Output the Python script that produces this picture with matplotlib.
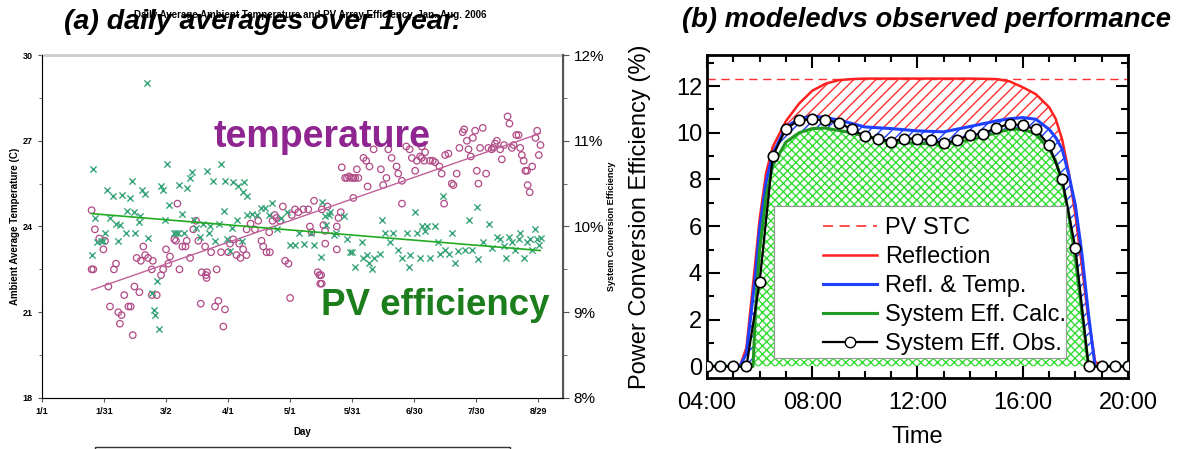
import matplotlib
matplotlib.use("Agg")
import matplotlib.pyplot as plt
from matplotlib.patches import Rectangle
from matplotlib.lines import Line2D

plt.rcParams["font.family"] = ["Liberation Sans", "DejaVu Sans"]
plt.rcParams["hatch.linewidth"] = 1.0

# ---------------- (a) daily averages ----------------
temp_day = [24.0, 24.0, 24.8, 25.6, 27.7, 29.7, 30.5, 32.1, 32.9, 34.8, 35.8, 36.9, 37.7,
            38.5, 39.8, 41.8, 42.9, 43.9, 44.7, 45.8, 47.1, 47.8, 49.0, 49.9, 51.3, 53.1,
            53.1, 53.6, 55.5, 57.6, 58.6, 60.0, 61.1, 61.9, 64.0, 64.8, 65.5, 66.5, 67.9,
            69.4, 70.0, 71.6, 73.2, 74.5, 75.6, 76.8, 77.3, 78.9, 79.3, 79.6, 79.8, 81.8,
            83.7, 84.5, 85.3, 86.6, 87.7, 88.5, 90.1, 90.9, 92.5, 94.1, 95.4, 96.0, 97.3,
            98.9, 99.0, 100.9, 103.0, 104.6, 106.2, 107.0, 108.6, 109.9, 110.2, 111.5,
            112.6, 113.4, 115.1, 116.5, 117.6, 119.2, 120.0, 120.8, 122.4, 124.0, 126.4,
            128.8, 129.6, 130.4, 131.6, 133.4, 134.2, 134.6, 135.0, 135.3, 135.4, 136.1,
            136.9, 137.0, 138.1, 142.6, 142.6, 143.4, 144.5, 145.0, 146.6, 147.5, 148.5,
            149.5, 150.6, 150.6, 151.5, 152.3, 153.0, 155.5, 156.8, 157.5, 158.4, 160.4,
            163.9, 165.0, 166.6, 167.5, 169.1, 171.5, 172.3, 174.1, 174.1, 176.2, 177.8,
            178.9, 180.5, 181.3, 182.9, 183.7, 183.7, 184.8, 185.3, 187.7, 189.0, 190.1,
            192.2, 193.3, 194.5, 195.0, 196.6, 198.2, 199.0, 200.6, 201.9, 203.5, 204.2,
            205.5, 206.3, 207.4, 208.4, 209.5, 210.3, 211.1, 211.9, 213.2, 214.8, 215.9,
            217.5, 218.3, 219.1, 220.0, 221.6, 222.4, 223.5, 225.2, 226.1, 227.3, 228.1,
            229.4, 230.5, 231.3, 232.1, 233.0, 233.8, 234.6, 234.9, 235.9, 237.1, 238.7,
            239.5, 240.3, 241.1]
temp_val = [24.57, 22.5, 22.5, 23.9, 23.58, 23.2, 23.5, 21.9, 21.2, 22.5, 22.7, 21.0, 20.6,
            20.9, 21.6, 21.2, 21.2, 20.2, 21.9, 22.9, 21.7, 22.8, 23.3, 23.0, 22.9, 22.5,
            21.6, 22.8, 21.6, 22.3, 22.5, 23.2, 22.7, 22.95, 23.55, 23.5, 24.8, 22.5, 23.3,
            23.3, 23.5, 22.9, 23.9, 24.2, 23.5, 21.3, 22.4, 23.3, 22.3, 22.2, 22.4, 23.1,
            21.2, 22.5, 21.4, 23.1, 20.5, 21.1, 23.1, 23.4, 23.55, 23.0, 23.4, 22.9, 23.2,
            23.0, 23.9, 24.1, 23.9, 24.2, 23.5, 23.3, 23.1, 23.8, 23.1, 24.2,
            24.4, 24.3, 24.2, 24.7, 22.8, 22.7, 21.5, 24.4, 24.6, 24.5, 24.6,
            24.6, 24.0, 23.8, 24.9, 22.4, 22.3, 22.0, 22.3, 22.0, 24.6, 24.05,
            23.85, 23.4, 24.7, 24.0, 23.2, 24.3, 24.5, 26.07, 25.7, 25.7, 25.75,
            25.7, 25.7, 25.0, 25.7, 26.0, 25.7, 26.4, 26.3, 25.4, 26.1, 26.7,
            26.0, 25.45, 25.7, 26.7, 26.4, 26.1, 25.85, 24.8, 25.6, 26.8, 26.7,
            26.4, 25.95, 26.3, 26.45, 26.4, 26.8, 26.3, 26.6, 26.3, 26.3, 26.25,
            26.1, 25.85, 24.8, 26.5, 26.55, 25.5, 25.45, 25.85, 26.75, 27.3, 27.4,
            27.0, 26.7, 26.45, 27.1, 27.35, 25.95, 25.5, 26.75, 27.45, 25.85, 26.75,
            26.7, 26.75, 26.9, 27.0, 26.7, 26.35, 26.85, 27.85, 27.6, 26.75, 26.85,
            27.2, 27.2, 26.75, 26.5, 26.3, 25.95, 25.95, 25.45, 25.2, 26.1, 27.1,
            27.35, 26.5, 26.85]

eff_day = [24.0, 24.8, 25.6, 26.4, 28.5, 29.3, 30.7, 31.3, 33.1, 34.5, 36.0, 36.7, 37.9,
           38.6, 40.4, 41.1, 42.6, 43.4, 44.4, 45.2, 46.8, 47.6, 48.6, 49.7, 50.6, 51.2,
           53.1, 54.0, 54.8, 55.5, 56.8, 57.4, 58.4, 59.5, 60.6, 61.6, 63.7, 64.9, 65.8,
           66.4, 67.6, 68.8, 70.0, 71.6, 72.4, 73.3, 74.6, 76.5, 78.1, 79.7, 80.6, 81.4,
           82.9, 83.8, 85.4, 86.5, 87.9, 88.5, 89.5, 90.8, 92.0, 92.6, 94.4, 95.0, 96.8,
           97.1, 97.7, 99.0, 99.2, 101.7, 104.1, 105.7, 108.1, 109.7, 111.3, 113.8, 115.4,
           118.7, 120.0, 122.2, 124.3, 126.7, 129.9, 131.5, 134.8, 135.3, 136.9, 137.2,
           138.8, 139.3, 141.0, 142.0, 146.2, 147.5, 148.8, 149.9, 151.5, 154.7, 155.5,
           157.1, 158.4, 159.6, 160.4, 163.3, 164.4, 166.0, 168.4, 170.0, 172.4, 174.1,
           176.5, 177.3, 178.1, 180.5, 181.3, 182.9, 183.7, 185.3, 186.4, 187.7, 190.1,
           191.7, 192.5, 194.1, 194.9, 197.0, 198.2, 199.9, 201.4, 204.6, 206.3, 207.9,
           210.3, 211.1, 213.5, 216.0, 217.6, 220.0, 221.6, 223.3, 224.4, 225.7, 227.3,
           228.9, 230.5, 231.3, 232.9, 234.6, 236.2, 237.0, 238.6, 239.5, 240.6, 241.4]
eff_pct = [9.67, 10.67, 10.10, 9.82, 9.83, 9.83, 9.93, 10.43, 10.10, 10.35, 10.03, 9.83, 10.02,
           10.37, 9.92, 10.18, 10.33, 10.53, 10.17, 9.92, 10.05, 10.12, 10.43, 10.38, 11.67, 9.87,
           9.22, 9.03, 8.97, 9.37, 8.80, 10.47, 10.42, 10.08, 10.73, 10.25, 9.93, 9.92, 9.92,
           10.48, 10.15, 9.93, 10.45, 10.57, 10.63, 10.07, 9.98, 9.88, 10.03, 10.65, 9.93, 10.00,
           10.53, 9.83, 10.03, 10.73, 10.18, 10.53, 9.85, 9.72, 9.98, 10.52, 10.08, 10.47, 9.83,
           10.40, 10.52, 10.35, 10.13, 10.15, 10.13, 10.22, 10.22, 10.13, 10.27, 9.97, 10.10,
           10.17, 9.78, 9.78, 9.93, 9.80, 9.93, 9.78, 9.65, 10.29, 10.12, 10.02,
           10.13, 10.17, 9.90, 9.92, 10.12, 9.85, 9.70, 9.70, 9.53, 9.82, 9.63,
           9.67, 9.58, 9.50, 9.63, 9.68, 10.07, 9.93, 9.82, 9.93, 9.73, 9.63,
           9.93, 9.53, 9.67, 10.17, 9.92, 9.63, 10.00, 9.95, 10.00, 9.63, 10.00,
           9.82, 9.68, 10.36, 9.73, 9.68, 9.92, 9.57, 9.72, 9.73, 10.07, 9.73,
           10.23, 9.62, 9.82, 10.03, 9.75, 9.88, 9.85, 9.77, 9.63, 9.88, 9.82,
           9.73, 9.85, 9.93, 9.63, 9.82, 9.85, 9.73, 9.97, 9.85, 9.78, 9.87]

trend_day = [24, 241]
temp_trend = [21.78, 27.26]
eff_trend = [10.15, 9.72]

day_ticks = [0, 30, 60, 90, 120, 150, 180, 210, 240]
day_labels = ["1/1", "1/31", "3/2", "4/1", "5/1", "5/31", "6/30", "7/30", "8/29"]

# ---------------- (b) modeled vs observed ----------------
t_obs = [4.0, 4.5, 5.0, 5.5, 6.0, 6.5, 7.0, 7.5, 8.0, 8.5, 9.0, 9.5, 10.0, 10.5, 11.0,
         11.5, 12.0, 12.5, 13.0, 13.5, 14.0, 14.5, 15.0, 15.5, 16.0, 16.5, 17.0, 17.5,
         18.0, 18.5, 19.0, 19.5, 20.0]
eff_obs = [0, 0, 0, 0, 3.6, 9.0, 10.18, 10.54, 10.58, 10.54, 10.44, 10.15, 9.86, 9.75,
           9.62, 9.75, 9.75, 9.69, 9.55, 9.69, 9.9, 9.96, 10.22, 10.37, 10.32, 10.15,
           9.46, 8.0, 5.06, 0, 0, 0, 0]

t_model = [4.0, 5.0, 5.25, 5.5, 5.75, 5.85, 6.0, 6.25, 6.5, 7.0, 7.5, 8.0, 8.5, 9.0, 9.5,
           10.0, 11.0, 12.0, 13.0, 14.0, 15.0, 15.5, 16.0, 16.5, 17.0, 17.25, 17.5, 17.75,
           18.0, 18.25, 18.5, 18.75, 19.0, 20.0]
eff_refl = [0, 0, 0, 0.8, 3.5, 4.6, 6.3, 8.3, 9.4, 10.5, 11.25, 11.8, 12.1, 12.25, 12.3,
            12.32, 12.32, 12.32, 12.32, 12.32, 12.3, 12.2, 11.95, 11.65, 11.1, 10.6, 9.7, 8.3,
            6.5, 4.3, 2.0, 0.2, 0, 0]
eff_temp = [0, 0, 0, 0.55, 3.0, 4.0, 5.9, 7.9, 9.1, 10.25, 10.6, 10.72, 10.65, 10.55, 10.4,
            10.25, 10.18, 10.08, 10.04, 10.27, 10.51, 10.6, 10.65, 10.58, 10.15, 9.8, 9.3, 8.2,
            6.9, 4.8, 2.2, 0, 0, 0]
eff_calc = [0, 0, 0, 0, 0, 2.5, 5.0, 7.3, 8.6, 9.6, 10.0, 10.18, 10.2, 10.1, 10.0,
            9.85, 9.6, 9.55, 9.5, 9.7, 10.0, 10.15, 10.15, 9.95, 9.3, 8.8, 7.9, 6.5,
            4.6, 2.3, 0, 0, 0, 0]
pv_stc = 12.3

hour_ticks = [4, 8, 12, 16, 20]
hour_labels = ["04:00", "08:00", "12:00", "16:00", "20:00"]

fig = plt.figure(figsize=(11.86, 4.49), dpi=100)

# ---- panel (a)
ax1 = fig.add_axes([0.0354, 0.1136, 0.4393, 0.7639])
ax1.scatter(temp_day, temp_val, s=22, facecolors="none", edgecolors="#b04a86",
            linewidths=0.9, zorder=3)
ax1.plot(trend_day, temp_trend, color="#c0609a", lw=1.0, zorder=4)
ax1.set_xlim(0, 252)
ax1.set_ylim(18, 30)
ax1.set_xticks(day_ticks)
ax1.set_xticklabels(day_labels, fontsize=6.5, fontweight="bold")
ax1.set_yticks([18, 21, 24, 27, 30])
ax1.set_yticks([19.5, 22.5, 25.5, 28.5], minor=True)
ax1.tick_params(axis="y", labelsize=6.5, length=3, color="#555555", direction="out")
for lab in ax1.get_yticklabels():
    lab.set_fontweight("bold")
ax1.tick_params(axis="x", length=3, color="#555555", direction="out")
ax1.tick_params(which="minor", length=2, color="#555555")
ax1.set_xlabel("Day", fontsize=7, fontweight="bold", labelpad=8)
ax1.set_ylabel("Ambient Average Temperature (C)", fontsize=7, fontweight="bold", labelpad=2)
for side in ["left", "bottom"]:
    ax1.spines[side].set_color("#777777")
ax1.spines["top"].set_color("#cccccc")
ax1.spines["top"].set_linewidth(2)

ax2 = ax1.twinx()
ax2.scatter(eff_day, eff_pct, s=20, marker="x", color="#3aa57a", linewidths=1.0, zorder=3)
ax2.plot(trend_day, eff_trend, color="#22aa22", lw=1.2, zorder=4)
ax2.set_ylim(8, 12)
ax2.set_yticks([8, 9, 10, 11, 12])
ax2.set_yticklabels(["8%", "9%", "10%", "11%", "12%"], fontsize=11)
ax2.set_yticks([8.5, 9.5, 10.5, 11.5], minor=True)
ax2.tick_params(axis="y", length=4, color="#555555", direction="out")
ax2.tick_params(which="minor", length=3, color="#555555")
ax2.spines["right"].set_color("#555555")
ax2.spines["right"].set_linewidth(1.5)
ax2.spines["top"].set_visible(False)
ax2.set_ylabel("System Conversion Efficiency", fontsize=6.5, fontweight="bold", labelpad=2)

ax1.text(0.33, 0.76, "temperature", transform=ax1.transAxes, fontsize=27,
         fontweight="bold", color="#8e2590", ha="left", va="center")
ax1.text(0.535, 0.27, "PV efficiency", transform=ax1.transAxes, fontsize=26.5,
         fontweight="bold", color="#1b7d1b", ha="left", va="center")

fig.text(0.221, 0.952, "(a) daily averages over 1year.", fontsize=20.5, fontweight="bold",
         style="italic", ha="center", va="center")
fig.text(0.262, 0.966, "Daily Average Ambient Temperature and PV Array Efficiency, Jan.-Aug. 2006",
         fontsize=7, fontweight="bold", ha="center", va="center")
fig.patches.append(Rectangle((0.08, -0.05), 0.35, 0.055, transform=fig.transFigure,
                             fill=False, edgecolor="#333333", lw=1.0))

# ---- panel (b)
ax3 = fig.add_axes([0.5961, 0.1581, 0.355, 0.7194])
ax3.fill_between(t_model, 0, eff_calc, facecolor="white", edgecolor="#33dd33",
                 hatch="xxxx", lw=0, zorder=1)
ax3.fill_between(t_model, eff_calc, eff_temp, facecolor="none", edgecolor="#2040ff",
                 hatch="///", lw=0, zorder=1)
ax3.fill_between(t_model, eff_temp, eff_refl, facecolor="none", edgecolor="#ff3030",
                 hatch="///", lw=0, zorder=1)
ax3.axhline(pv_stc, color="#ff3030", lw=1.0, ls=(0, (6, 4)), zorder=2)
ax3.plot(t_model, eff_refl, color="#ff2020", lw=1.8, zorder=3)
ax3.plot(t_model, eff_temp, color="#2040ff", lw=2.2, zorder=3)
ax3.plot(t_model, eff_calc, color="#229922", lw=2.2, zorder=3)
ax3.plot(t_obs, eff_obs, color="black", lw=1.6, marker="o", ms=7.5,
         mfc="white", mec="black", mew=1.2, zorder=4)
ax3.set_xlim(4, 20)
ax3.set_ylim(-0.5, 13.33)
ax3.set_xticks(hour_ticks)
ax3.set_xticklabels(hour_labels, fontsize=17)
ax3.set_xticks(range(4, 21), minor=True)
ax3.set_yticks([0, 2, 4, 6, 8, 10, 12])
ax3.set_yticks(range(0, 14), minor=True)
ax3.tick_params(axis="y", labelsize=17)
ax3.tick_params(axis="x", pad=10)
ax3.tick_params(which="both", direction="in", top=True, right=True, width=1.5)
ax3.tick_params(which="major", length=9)
ax3.tick_params(which="minor", length=5)
for sp in ax3.spines.values():
    sp.set_linewidth(2)
ax3.set_xlabel("Time", fontsize=17, labelpad=9)
ax3.set_ylabel("Power Conversion Efficiency (%)", fontsize=17, labelpad=18)

# white legend panel (box drawn separately so it can be wider than the entries)
ax3.add_patch(Rectangle((6.55, 0.34), 11.09, 6.52, facecolor="white",
                        edgecolor="#999999", lw=0.8, zorder=5))
handles = [
    Line2D([], [], color="#ff3030", lw=1.2, ls=(0, (6, 4))),
    Line2D([], [], color="#ff2020", lw=1.8),
    Line2D([], [], color="#2040ff", lw=2.2),
    Line2D([], [], color="#229922", lw=2.2),
    Line2D([], [], color="black", lw=1.6, marker="o", ms=7.5, mfc="white", mec="black"),
]
labels = ["PV STC", "Reflection", "Refl. & Temp.", "System Eff. Calc.", "System Eff. Obs."]
leg = ax3.legend(handles, labels, loc="lower right", bbox_to_anchor=(0.853, 0.07),
                 fontsize=17, frameon=False, borderaxespad=0, handlelength=2.3,
                 handletextpad=0.35, labelspacing=0.3, borderpad=0.0)
leg.set_zorder(6)

fig.text(0.781, 0.955, "(b) modeledvs observed performance", fontsize=19.7,
         fontweight="bold", style="italic", ha="center", va="center")

fig.savefig("out.png", dpi=100)
